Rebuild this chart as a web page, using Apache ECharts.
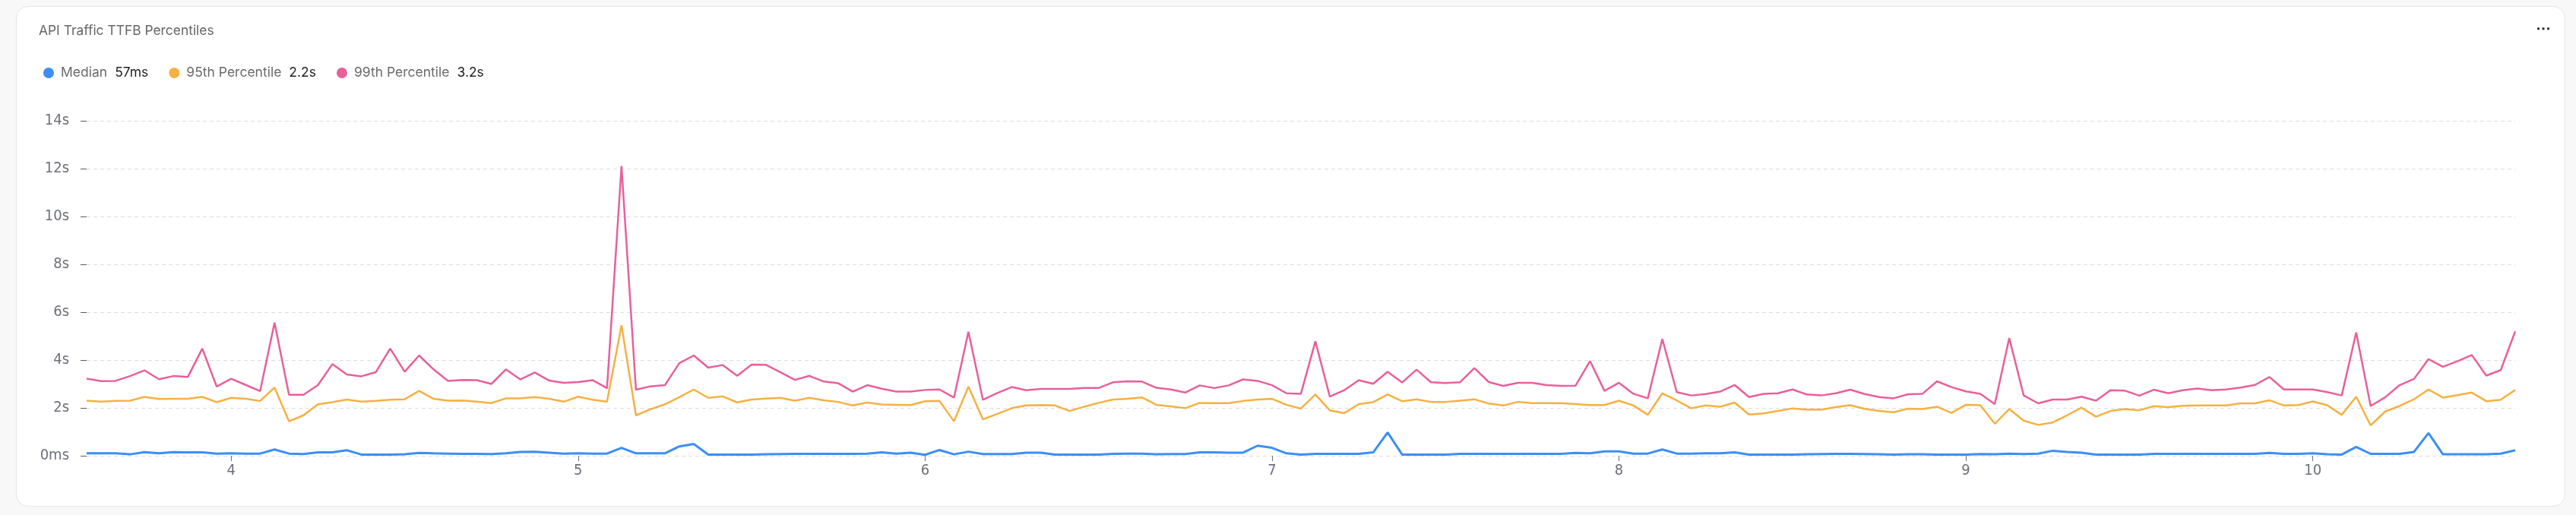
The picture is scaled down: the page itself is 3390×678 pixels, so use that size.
<!DOCTYPE html>
<html>
<head>
<meta charset="utf-8">
<script src="https://cdn.jsdelivr.net/npm/echarts@6/dist/echarts.min.js"></script>
<style>
  html, body { margin: 0; padding: 0; background: #f8f8f8; }
  #card { position: absolute; left: 21px; top: 8px; width: 3355px; height: 659px; box-sizing: border-box;
          border: 1px solid #e6e6e6; border-radius: 16px; background: #fff; }
  #chart { position: absolute; left: 0; top: 0; width: 3390px; height: 678px; }
</style>
</head>
<body>
<div id="card"></div>
<div id="chart"></div>
<script>
// ---- data ----
const titleText = 'API Traffic TTFB Percentiles';
const seriesNames = ['Median', '95th Percentile', '99th Percentile'];
const legendValues = ['57ms', '2.2s', '3.2s'];
const seriesColors = ['#3d8ef5', '#f5b142', '#e8609a'];
const yTickLabels = ['0ms', '2s', '4s', '6s', '8s', '10s', '12s', '14s'];
const startDay = 3, startHour = 14, pointCount = 169; // hourly samples

const median = [0.10,0.10,0.10,0.06,0.15,0.10,0.15,0.14,0.14,0.09,0.10,0.09,0.09,0.26,0.09,0.07,0.14,0.14,0.23,0.05,
0.05,0.05,0.06,0.12,0.10,0.09,0.08,0.08,0.07,0.10,0.16,0.17,0.13,0.09,0.10,0.09,0.09,0.33,0.10,0.10,
0.10,0.39,0.49,0.05,0.05,0.05,0.05,0.06,0.07,0.08,0.08,0.08,0.08,0.08,0.09,0.14,0.09,0.13,0.04,0.24,
0.06,0.17,0.07,0.07,0.07,0.13,0.13,0.05,0.05,0.05,0.05,0.08,0.09,0.09,0.06,0.07,0.07,0.14,0.14,0.13,
0.13,0.42,0.33,0.10,0.05,0.08,0.08,0.08,0.08,0.14,0.97,0.05,0.05,0.05,0.05,0.08,0.08,0.08,0.08,0.08,
0.08,0.08,0.08,0.12,0.10,0.18,0.18,0.09,0.09,0.26,0.09,0.09,0.10,0.10,0.14,0.05,0.05,0.05,0.05,0.06,
0.07,0.08,0.08,0.07,0.06,0.05,0.06,0.06,0.05,0.05,0.05,0.07,0.06,0.09,0.07,0.09,0.21,0.16,0.13,0.05,
0.05,0.05,0.05,0.08,0.08,0.08,0.08,0.08,0.08,0.08,0.08,0.12,0.08,0.08,0.10,0.06,0.05,0.37,0.08,0.08,
0.08,0.16,0.95,0.06,0.06,0.06,0.06,0.09,0.23];

const p95 = [2.30,2.26,2.29,2.30,2.46,2.37,2.38,2.38,2.46,2.24,2.42,2.38,2.29,2.85,1.44,1.69,2.15,2.24,2.35,2.26,
2.29,2.34,2.36,2.71,2.38,2.30,2.31,2.26,2.20,2.40,2.40,2.45,2.38,2.26,2.47,2.34,2.26,5.45,1.69,1.94,
2.15,2.45,2.77,2.42,2.48,2.23,2.35,2.39,2.42,2.30,2.42,2.32,2.25,2.10,2.22,2.14,2.13,2.12,2.28,2.29,
1.44,2.89,1.52,1.75,1.99,2.10,2.12,2.10,1.87,2.05,2.21,2.35,2.38,2.44,2.13,2.06,1.99,2.21,2.20,2.20,
2.29,2.35,2.38,2.13,1.97,2.56,1.90,1.78,2.16,2.24,2.56,2.28,2.36,2.25,2.25,2.30,2.36,2.18,2.10,2.25,
2.20,2.20,2.20,2.16,2.12,2.12,2.30,2.10,1.71,2.61,2.31,1.98,2.10,2.05,2.22,1.72,1.77,1.87,1.98,1.93,
1.93,2.03,2.11,1.96,1.87,1.82,1.97,1.95,2.05,1.79,2.13,2.11,1.34,1.95,1.47,1.29,1.39,1.69,2.01,1.63,
1.87,1.95,1.90,2.07,2.03,2.09,2.10,2.10,2.10,2.19,2.19,2.32,2.10,2.12,2.27,2.11,1.71,2.47,1.27,1.85,
2.08,2.36,2.77,2.43,2.53,2.64,2.28,2.34,2.75];

const p99 = [3.22,3.12,3.13,3.33,3.57,3.20,3.33,3.29,4.48,2.89,3.22,2.96,2.70,5.56,2.55,2.55,2.95,3.83,3.40,3.32,
3.49,4.48,3.51,4.19,3.61,3.13,3.17,3.16,3.00,3.61,3.19,3.48,3.14,3.05,3.08,3.16,2.82,12.11,2.76,2.90,
2.95,3.87,4.19,3.68,3.79,3.34,3.81,3.80,3.49,3.17,3.34,3.10,3.03,2.68,2.95,2.80,2.68,2.68,2.75,2.77,
2.43,5.18,2.34,2.62,2.87,2.74,2.79,2.79,2.79,2.83,2.83,3.07,3.11,3.10,2.84,2.77,2.64,2.94,2.83,2.94,
3.19,3.13,2.95,2.61,2.59,4.78,2.47,2.74,3.16,3.01,3.51,3.06,3.60,3.07,3.04,3.07,3.66,3.08,2.92,3.05,
3.05,2.95,2.92,2.93,3.96,2.71,3.05,2.59,2.40,4.88,2.66,2.52,2.58,2.68,2.96,2.45,2.59,2.61,2.77,2.56,
2.52,2.61,2.76,2.58,2.45,2.40,2.57,2.59,3.11,2.87,2.69,2.59,2.16,4.92,2.52,2.19,2.35,2.35,2.47,2.30,
2.74,2.72,2.51,2.76,2.61,2.74,2.81,2.74,2.77,2.85,2.96,3.29,2.77,2.77,2.77,2.66,2.52,5.15,2.08,2.44,
2.95,3.21,4.04,3.72,3.95,4.21,3.35,3.58,5.20];

// hourly category labels "day hh:00"
const categories = [];
for (let k = 0; k < pointCount; k++) {
  const h = startHour + k;
  categories.push((startDay + Math.floor(h / 24)) + ' ' + String(h % 24).padStart(2, '0') + ':00');
}
const isDayStart = (idx, val) => String(val).endsWith(' 00:00');

const chart = echarts.init(document.getElementById('chart'), null, { renderer: 'canvas' });
const sans = 'Inter, "Noto Sans", sans-serif';
const narrow = '"Liberation Sans Narrow", "DejaVu Sans Condensed", sans-serif';

const seriesData = [median, p95, p99];
chart.setOption({
  animation: false,
  backgroundColor: 'transparent',
  title: {
    text: titleText, left: 46, top: 27,
    textStyle: { fontFamily: sans, fontSize: 17.4, fontWeight: 'normal', color: '#666666' }
  },
  legend: {
    left: 52, top: 82, icon: 'circle', itemWidth: 14, itemHeight: 14, itemGap: 27,
    data: seriesNames,
    formatter: function (name) {
      const i = seriesNames.indexOf(name);
      return '{n|' + name + '}{v|' + legendValues[i] + '}';
    },
    textStyle: {
      fontFamily: sans, fontSize: 17.5, padding: [0, 0, 0, 4],
      rich: {
        n: { fontFamily: sans, fontSize: 17.5, color: '#6b6b6b' },
        v: { fontFamily: sans, fontSize: 17.5, color: '#1f1f1f', padding: [0, 0, 0, 10] }
      }
    }
  },
  grid: { left: 114, right: 80, top: 159, bottom: 78, containLabel: false },
  xAxis: {
    type: 'category', data: categories, boundaryGap: false,
    axisLine: { show: false },
    axisTick: { show: true, interval: isDayStart, length: 7, lineStyle: { color: '#6e7079' } },
    axisLabel: {
      interval: isDayStart, margin: 10, color: '#6e7079', fontFamily: narrow, fontSize: 20,
      formatter: v => String(v).split(' ')[0]
    },
    splitLine: { show: false }
  },
  yAxis: {
    type: 'value', min: 0, max: 14, interval: 2,
    axisLine: { show: false },
    axisTick: { show: true, length: 8, lineStyle: { color: '#555b66' } },
    axisLabel: {
      margin: 23, color: '#6e7079', fontFamily: narrow, fontSize: 20,
      formatter: v => yTickLabels[Math.round(v / 2)]
    },
    splitLine: { show: true, lineStyle: { color: '#dddddd', width: 1, type: [5, 4] } }
  },
  series: seriesNames.map((name, i) => ({
    name: name, type: 'line', data: seriesData[i], showSymbol: false, symbol: 'none',
    color: seriesColors[i],
    lineStyle: { color: seriesColors[i], width: i === 0 ? 3 : 2.5 },
    z: i === 0 ? 5 : 3
  })),
  graphic: [
    { type: 'circle', shape: { cx: 3340.5, cy: 37.7, r: 1.7 }, style: { fill: '#333' } },
    { type: 'circle', shape: { cx: 3347, cy: 37.7, r: 1.7 }, style: { fill: '#333' } },
    { type: 'circle', shape: { cx: 3353.5, cy: 37.7, r: 1.7 }, style: { fill: '#333' } }
  ]
});
</script>
</body>
</html>
